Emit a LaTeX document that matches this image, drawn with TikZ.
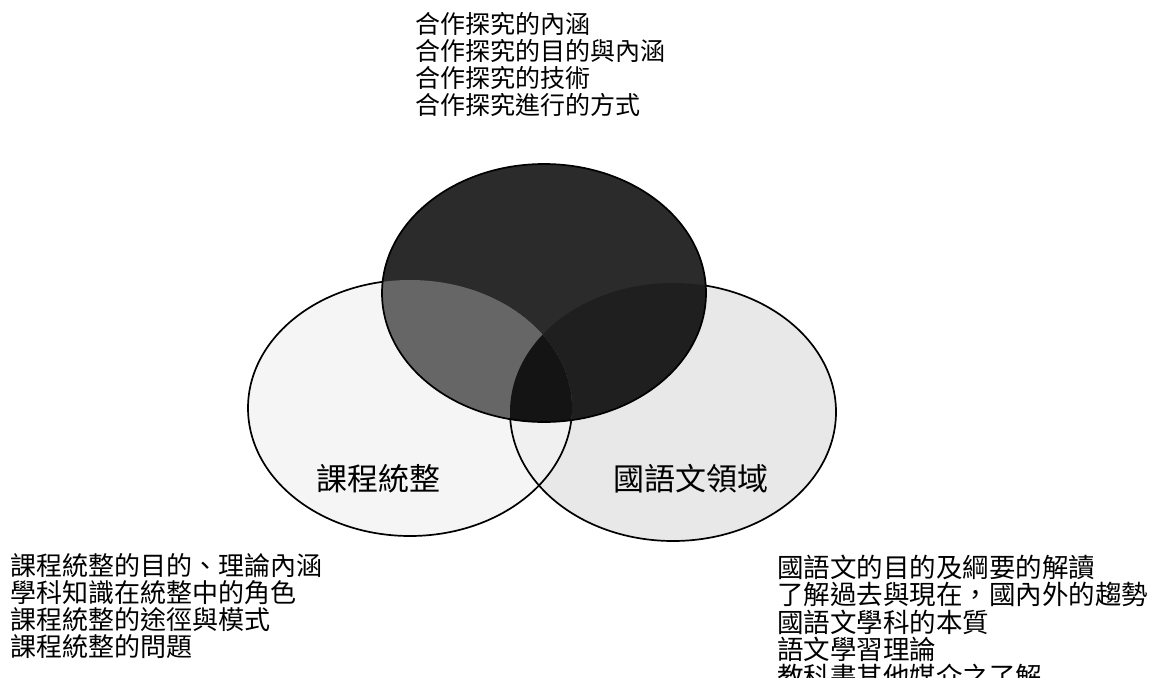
\documentclass[tikz,border=0pt]{standalone}
\usepackage{fontspec}
\setmainfont{Noto Sans CJK TC}
\begin{document}
\begin{tikzpicture}[x=1pt,y=-1pt,
  outline/.style={draw=black,line width=1.7pt},
  listtext/.style={anchor=north west,inner sep=0pt,align=left},
  label/.style={inner sep=0pt,font=\fontsize{31}{34}\selectfont}]
\useasboundingbox (0,0) rectangle (1164,677);
\def\leftE{(410,408) ellipse [x radius=162, y radius=128]}
\def\rightE{(673,412) ellipse [x radius=163, y radius=129]}
\def\darkE{(544,293) ellipse [x radius=162, y radius=129]}
% light fills
\fill[black!4] \leftE;
\fill[black!9] \rightE;
\begin{scope}
  \clip \leftE;
  \fill[black!6] \rightE;
\end{scope}
\draw[outline] \leftE;
\draw[outline] \rightE;
% dark ellipse
\fill[black!83] \darkE;
\begin{scope}
  \clip \darkE;
  \fill[black!88] \rightE;
  \clip \leftE;
  \fill[black!60] \leftE;
  \clip \rightE;
  \fill[black!92] \leftE;
\end{scope}
\draw[outline] \darkE;
% labels
\node[label] (kc) at (378,479) {課程統整};
\node[label] (gy) at (691,479) {國語文領域};
% lists
\node[listtext,font=\fontsize{25}{27}\selectfont] (top) at (415,12) {合作探究的內涵\\合作探究的目的與內涵\\合作探究的技術\\合作探究進行的方式};
\node[listtext,font=\fontsize{26}{27}\selectfont] (bl) at (10,553) {課程統整的目的、理論內涵\\學科知識在統整中的角色\\課程統整的途徑與模式\\課程統整的問題};
\node[listtext,font=\fontsize{26.5}{27.3}\selectfont] (br) at (777,555) {國語文的目的及綱要的解讀\\了解過去與現在，國內外的趨勢\\國語文學科的本質\\語文學習理論\\教科書其他媒介之了解};
\end{tikzpicture}
\end{document}
